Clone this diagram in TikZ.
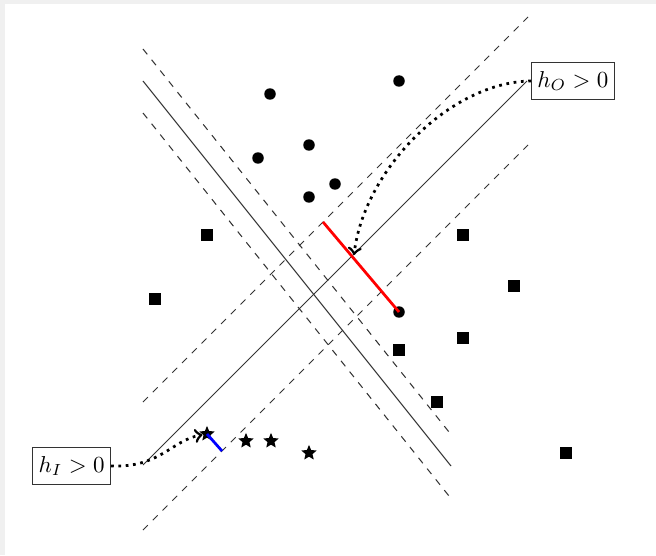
\documentclass[tikz,border=0pt]{standalone}
\usetikzlibrary{shapes.geometric}
\begin{document}
\begin{tikzpicture}[x=0.435pt,y=-0.435pt,
  sep/.style={line width=0.45pt, black!80},
  margin/.style={dashed, line width=0.45pt, black!80},
  pt/.style={circle, fill, inner sep=0pt, minimum size=5pt},
  sq/.style={rectangle, fill, inner sep=0pt, minimum size=5.6pt},
  st/.style={star, star points=5, star point ratio=2.2, fill, inner sep=0pt, minimum size=7pt},
  lab/.style={draw, black!80, text=black, fill=white, inner xsep=2.6pt, inner ysep=4pt},
  lead/.style={dotted, very thick, ->},
  gap/.style={very thick}]
\useasboundingbox (0,0) rectangle (656,555);
\fill[black!6] (0,0) rectangle (656,555);
\fill[white] (5,4) rectangle (656,555);
% first separator (rising) and its margins
\coordinate (a1) at (143,465); \coordinate (a2) at (527,81);
\coordinate (b1) at (143,402); \coordinate (b2) at (528,17);
\coordinate (d1) at (143,530); \coordinate (d2) at (528,145);
\draw[sep] (a1) -- (a2);
\draw[margin] (b1) -- (b2);
\draw[margin] (d1) -- (d2);
% second separator (falling) and its margins
\coordinate (e1) at (143,81); \coordinate (e2) at (451,466);
\coordinate (f1) at (143,49); \coordinate (f2) at (449,432);
\coordinate (g1) at (143,113); \coordinate (g2) at (449,496);
\draw[sep] (e1) -- (e2);
\draw[margin] (f1) -- (f2);
\draw[margin] (g1) -- (g2);
% circles
\node[pt] (c1) at (270,94) {};
\node[pt] (c2) at (399,81) {};
\node[pt] (c3) at (258,158) {};
\node[pt] (c4) at (309,145) {};
\node[pt] (c5) at (309,197) {};
\node[pt] (c6) at (335,184) {};
\node[pt] (c7) at (399,312) {};
% squares
\node[sq] (s1) at (207,235) {};
\node[sq] (s2) at (463,235) {};
\node[sq] (s3) at (155,299) {};
\node[sq] (s4) at (514,286) {};
\node[sq] (s5) at (463,338) {};
\node[sq] (s6) at (399,350) {};
\node[sq] (s7) at (437,402) {};
\node[sq] (s8) at (566,453) {};
% stars
\node[st] (t1) at (207,434) {};
\node[st] (t2) at (246,441) {};
\node[st] (t3) at (271,441) {};
\node[st] (t4) at (309,453) {};
% distances
\coordinate (r2) at (323,222);
\draw[gap, red] (c7.center) -- (r2);
\coordinate (u2) at (222,451);
\draw[gap, blue] (t1.center) -- (u2);
% labels
\node[lab, anchor=west] (hO) at (531,81) {$h_O > 0$};
\node[lab, anchor=east] (hI) at (111,466) {$h_I > 0$};
\coordinate (m) at (354,255);
\draw[lead] (hO.west) .. controls (450,82) and (364,170) .. (m);
\draw[lead] (hI.east) .. controls (160,468) and (172,440) .. (t1);
\end{tikzpicture}
\end{document}
